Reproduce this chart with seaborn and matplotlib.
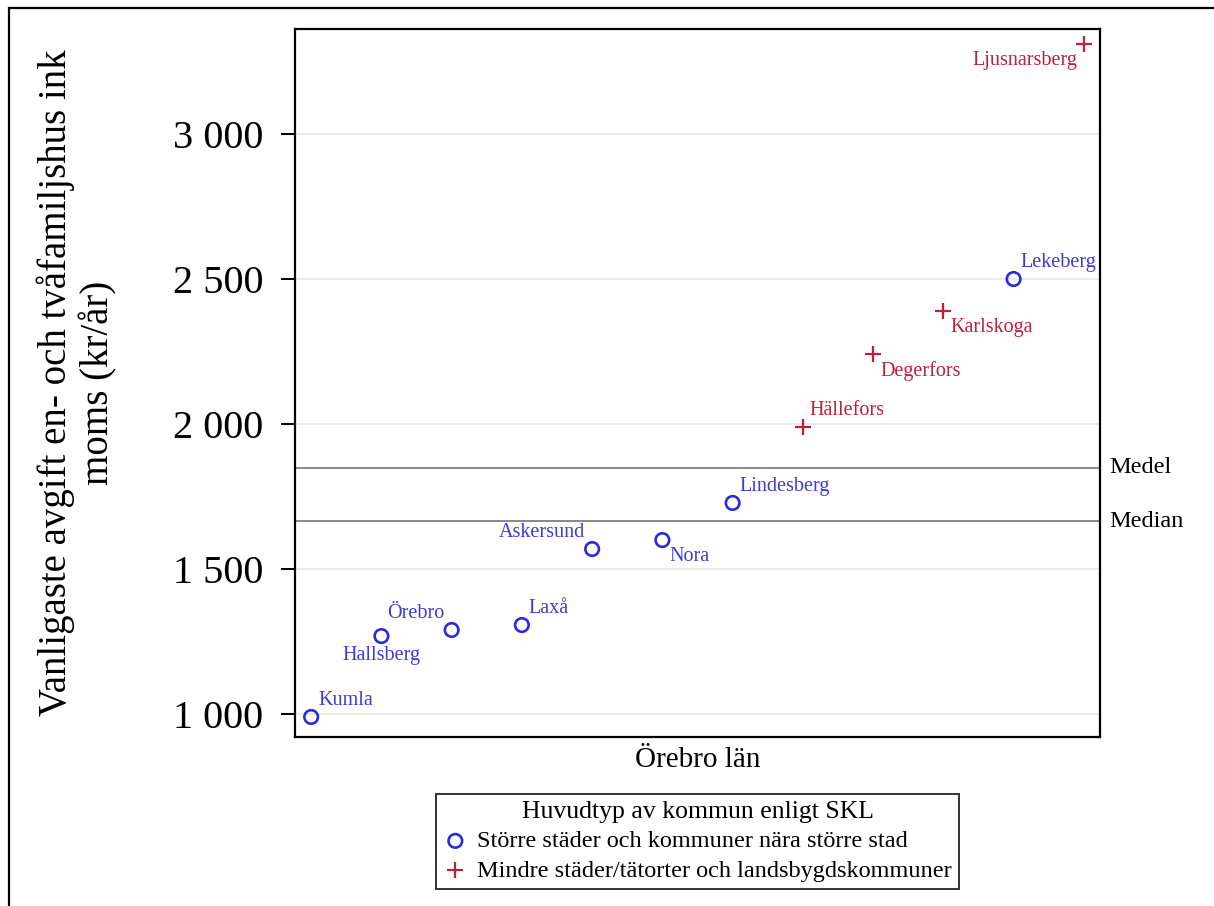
import numpy as np
import pandas as pd
import matplotlib
matplotlib.use('Agg')
import matplotlib.pyplot as plt
from matplotlib.patches import Rectangle
from matplotlib.ticker import FuncFormatter
import seaborn as sns

# Data
kommuner = ['Kumla', 'Hallsberg', 'Örebro', 'Laxå', 'Askersund', 'Nora',
            'Lindesberg', 'Hällefors', 'Degerfors', 'Karlskoga', 'Lekeberg',
            'Ljusnarsberg']
avgift = [990, 1269, 1290, 1307, 1569, 1600, 1728, 1990, 2241, 2390, 2500, 3310]
grupp_stor = 'Större städer och kommuner nära större stad'
grupp_mindre = 'Mindre städer/tätorter och landsbygdskommuner'
typ = [grupp_stor, grupp_stor, grupp_stor, grupp_stor, grupp_stor, grupp_stor,
       grupp_stor, grupp_mindre, grupp_mindre, grupp_mindre, grupp_stor,
       grupp_mindre]
y_ticks = [1000, 1500, 2000, 2500, 3000]

df = pd.DataFrame({'kommun': kommuner, 'avgift': avgift, 'typ': typ})
df['rank'] = df['avgift'].rank(method='first')

blue = '#2a2ae0'
red = '#c01f3a'
label_blue = '#3b3be0'

sns.set_style('white')
plt.rcParams['font.family'] = ['Liberation Serif', 'DejaVu Serif']
plt.rcParams['text.color'] = 'black'
plt.rcParams['axes.labelcolor'] = 'black'
plt.rcParams['ytick.color'] = 'black'
plt.rcParams['xtick.color'] = 'black'

fig = plt.figure(figsize=(12.14, 9.06), dpi=100)
ax = fig.add_axes([295 / 1214, 169 / 906, 805 / 1214, 708 / 906])

# grid lines
for t in y_ticks:
    ax.axhline(t, color='#e8e8e8', lw=1.3, zorder=0)

# mean / median
medel = df['avgift'].mean()
median = df['avgift'].median()
ax.axhline(medel, color='#888888', lw=1.4, zorder=1)
ax.axhline(median, color='#888888', lw=1.4, zorder=1)

big = df[df['typ'] == grupp_stor]
small = df[df['typ'] == grupp_mindre]
sns.scatterplot(data=big, x='rank', y='avgift', marker='o', s=95,
                facecolor='none', edgecolor=blue, linewidth=1.9,
                label=grupp_stor, ax=ax, zorder=3)
sns.scatterplot(data=small, x='rank', y='avgift', marker='+', s=130,
                color=red, linewidth=1.6, label=grupp_mindre, ax=ax, zorder=3)

# label placement (clock-like)
pos = {'Kumla': 'ne', 'Hallsberg': 's', 'Örebro': 'nw', 'Laxå': 'ne',
       'Askersund': 'nw', 'Nora': 'se', 'Lindesberg': 'ne', 'Hällefors': 'ne',
       'Degerfors': 'se', 'Karlskoga': 'se', 'Lekeberg': 'ne',
       'Ljusnarsberg': 'sw'}
offs = {'ne': (5, 5, 'left', 'bottom'), 'nw': (-5, 5, 'right', 'bottom'),
        'se': (5, -5, 'left', 'top'), 'sw': (-5, -5, 'right', 'top'),
        's': (0, -7, 'center', 'top')}
for _, r in df.iterrows():
    dx, dy, ha, va = offs[pos[r['kommun']]]
    col = label_blue if r['typ'] == grupp_stor else red
    ax.annotate(r['kommun'], (r['rank'], r['avgift']), xytext=(dx, dy),
                textcoords='offset points', ha=ha, va=va, color=col,
                fontsize=14.5)

ax.text(1.012, medel, 'Medel', transform=ax.get_yaxis_transform(),
        va='center', ha='left', fontsize=17.5)
ax.text(1.012, median, 'Median', transform=ax.get_yaxis_transform(),
        va='center', ha='left', fontsize=17.5)

ax.set_xlim(0.77, 12.23)
ax.set_ylim(921, 3362)
ax.set_xticks([])
ax.set_yticks(y_ticks)
ax.yaxis.set_major_formatter(FuncFormatter(lambda v, p: f'{int(v):,}'.replace(',', ' ')))
ax.tick_params(axis='y', left=True, length=10, width=1.4, labelsize=29, pad=13)
for s in ax.spines.values():
    s.set_linewidth(1.6)
    s.set_color('black')

ax.set_xlabel('Örebro län', fontsize=21, labelpad=7)
ax.set_ylabel('Vanligaste avgift en- och tvåfamiljshus ink\nmoms (kr/år)',
              fontsize=28, linespacing=1.15)
ax.yaxis.set_label_coords(-0.22, 0.5)

leg = ax.legend(loc='upper center', bbox_to_anchor=(0.5, -0.08),
                title='Huvudtyp av kommun enligt SKL', fontsize=17.5,
                title_fontsize=18.5, frameon=True, fancybox=False,
                handletextpad=0.4, borderpad=0.3, labelspacing=0.3,
                handlelength=1.0, borderaxespad=0)
leg.get_frame().set_edgecolor('black')
leg.get_frame().set_linewidth(1.4)

# outer frame around the figure (cut off at right and bottom)
fig.patches.append(Rectangle((9 / 1214, -0.1), 1.2, 1.1 - 8 / 906,
                             transform=fig.transFigure, fill=False,
                             lw=1.6, ec='black'))

fig.savefig('out.png', dpi=100)
